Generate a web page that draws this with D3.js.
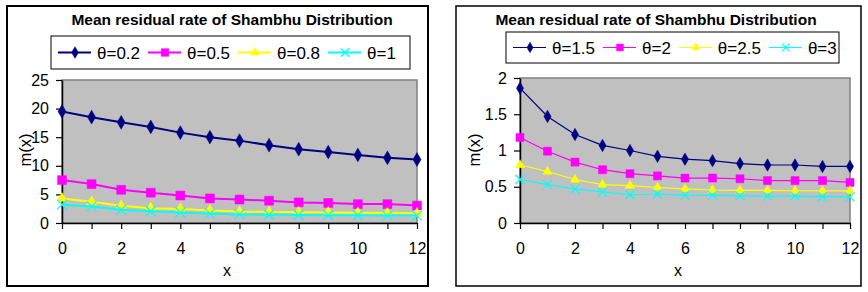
<!DOCTYPE html>
<html>
<head>
<meta charset="utf-8">
<script src="https://cdn.jsdelivr.net/npm/d3@7"></script>
<style>
  body { margin: 0; background: #fff; }
  svg { display: block; font-family: Arial, "Liberation Sans", sans-serif; }
</style>
</head>
<body>
<svg id="chart" width="868" height="292"></svg>
<script>
// x values shared by both panels
const xValues = [0, 1, 2, 3, 4, 5, 6, 7, 8, 9, 10, 11, 12];

// left panel (small theta)
const leftNames = ['θ=0.2', 'θ=0.5', 'θ=0.8', 'θ=1'];
const leftTheta02 = [19.5, 18.5, 17.6, 16.8, 15.8, 15.0, 14.4, 13.6, 12.9, 12.4, 11.9, 11.4, 11.1];
const leftTheta05 = [7.5, 6.8, 5.8, 5.3, 4.8, 4.3, 4.1, 3.9, 3.6, 3.5, 3.3, 3.3, 3.05];
const leftTheta08 = [4.3, 3.7, 3.0, 2.6, 2.45, 2.2, 2.0, 1.95, 1.9, 1.85, 1.8, 1.75, 1.7];
const leftTheta1 = [3.2, 2.9, 2.3, 2.05, 1.85, 1.65, 1.5, 1.45, 1.4, 1.35, 1.35, 1.3, 1.3];
const leftYTicks = [0, 5, 10, 15, 20, 25];

// right panel (large theta)
const rightNames = ['θ=1.5', 'θ=2', 'θ=2.5', 'θ=3'];
const rightTheta15 = [1.86, 1.47, 1.22, 1.07, 1.0, 0.92, 0.88, 0.86, 0.82, 0.8, 0.8, 0.78, 0.78];
const rightTheta2 = [1.18, 0.99, 0.84, 0.735, 0.68, 0.65, 0.62, 0.62, 0.61, 0.585, 0.585, 0.585, 0.56];
const rightTheta25 = [0.8, 0.71, 0.6, 0.53, 0.515, 0.49, 0.47, 0.455, 0.45, 0.45, 0.445, 0.445, 0.44];
const rightTheta3 = [0.6, 0.53, 0.47, 0.43, 0.39, 0.4, 0.385, 0.38, 0.375, 0.37, 0.37, 0.365, 0.36];
const rightYTicks = [0, 0.5, 1, 1.5, 2];

const colors = ['#000080', '#ff00ff', '#ffff00', '#00ffff'];
const markers = ['diamond', 'square', 'triangle', 'cross'];
const title = 'Mean residual rate of Shambhu Distribution';

const svg = d3.select('#chart');

const drawMarker = (g, type, color, size) => {
  const h = size / 2;
  if (type === 'cross') {
    g.append('path')
      .attr('d', `M${-h},${-h}L${h},${h}M${-h},${h}L${h},${-h}`)
      .attr('stroke', color)
      .attr('stroke-width', 1.2)
      .attr('fill', 'none');
    return;
  }
  const sym = type === 'diamond' ? d3.symbolDiamond
    : type === 'square' ? d3.symbolSquare : d3.symbolTriangle;
  const area = type === 'diamond' ? size * size * 0.55
    : type === 'square' ? size * size * 0.8 : size * size * 0.45;
  g.append('path')
    .attr('d', d3.symbol(sym, area)())
    .attr('fill', color)
    .attr('stroke', color)
    .attr('stroke-width', 0.5);
};

const Panel = (props) => {
  const { frame, plot, yMax, yTicks, yFormat, names, series, legend, lineWidth, markerSize, frameWidth } = props;

  const g = svg.append('g');

  g.append('rect')
    .attr('x', frame.x).attr('y', frame.y)
    .attr('width', frame.w).attr('height', frame.h)
    .attr('fill', '#fff')
    .attr('stroke', '#000')
    .attr('stroke-width', frameWidth);

  g.append('text')
    .attr('x', frame.titleX)
    .attr('y', 25)
    .attr('text-anchor', 'middle')
    .attr('font-weight', 'bold')
    .attr('font-size', 15.5)
    .text(title);

  const xScale = d3.scaleLinear().domain([0, 12]).range([plot.x0, plot.x1]);
  const yScale = d3.scaleLinear().domain([0, yMax]).range([plot.y1, plot.y0]);

  g.append('rect')
    .attr('x', plot.x0).attr('y', plot.y0)
    .attr('width', plot.x1 - plot.x0).attr('height', plot.y1 - plot.y0)
    .attr('fill', '#c0c0c0')
    .attr('stroke', '#808080')
    .attr('stroke-width', 1.5);

  const axisStyle = AxisG => {
    AxisG.selectAll('.domain').attr('stroke', '#000').attr('stroke-width', 1.5);
    AxisG.selectAll('line').attr('stroke', '#000').attr('stroke-width', 1.2);
    AxisG.selectAll('text')
      .attr('font-size', 16)
      .attr('font-family', 'Arial, "Liberation Sans", sans-serif')
      .attr('fill', '#000');
  };

  g.append('g')
    .attr('transform', `translate(0, ${plot.y1})`)
    .call(d3.axisBottom(xScale)
      .tickValues(xValues)
      .tickFormat(d => d % 2 === 0 ? d : '')
      .tickSize(6).tickSizeOuter(0).tickPadding(14))
    .call(axisStyle);

  g.append('g')
    .attr('transform', `translate(${plot.x0}, 0)`)
    .call(d3.axisLeft(yScale)
      .tickValues(yTicks)
      .tickFormat(yFormat)
      .tickSize(6).tickSizeOuter(0).tickPadding(7))
    .call(axisStyle);

  g.append('text')
    .attr('x', props.xLabelX).attr('y', 276)
    .attr('text-anchor', 'middle')
    .attr('font-size', 16)
    .text('x');

  g.append('text')
    .attr('transform', `translate(${props.yLabelX}, 150) rotate(-90)`)
    .attr('text-anchor', 'middle')
    .attr('dy', '0.35em')
    .attr('font-size', 16.5)
    .text('m(x)');

  const line = d3.line()
    .x((d, i) => xScale(xValues[i]))
    .y(d => yScale(d));

  series.forEach((values, k) => {
    g.append('path')
      .datum(values)
      .attr('d', line)
      .attr('fill', 'none')
      .attr('stroke', colors[k])
      .attr('stroke-width', lineWidth);
    values.forEach((v, i) => {
      const mg = g.append('g')
        .attr('transform', `translate(${xScale(xValues[i])}, ${yScale(v)})`);
      drawMarker(mg, markers[k], colors[k], markerSize);
    });
  });

  // legend
  g.append('rect')
    .attr('x', legend.x).attr('y', legend.y)
    .attr('width', legend.w).attr('height', legend.h)
    .attr('fill', '#fff')
    .attr('stroke', '#000')
    .attr('stroke-width', 1);

  const cy = legend.y + legend.h / 2;
  let cx = legend.x + 7;
  names.forEach((name, k) => {
    g.append('line')
      .attr('x1', cx).attr('x2', cx + 33)
      .attr('y1', cy).attr('y2', cy)
      .attr('stroke', colors[k])
      .attr('stroke-width', lineWidth);
    const mg = g.append('g').attr('transform', `translate(${cx + 17}, ${cy})`);
    drawMarker(mg, markers[k], colors[k], markerSize * 0.85);
    const t = g.append('text')
      .attr('x', cx + 39).attr('y', cy)
      .attr('dy', '0.36em')
      .attr('font-size', 17)
      .text(name);
    cx += 39 + t.node().getComputedTextLength() + 8;
  });
};

Panel({
  frame: { x: 7, y: 6, w: 421, h: 280, titleX: 232 },
  frameWidth: 2,
  plot: { x0: 62, x1: 417, y0: 80, y1: 223 },
  yMax: 25,
  yTicks: leftYTicks,
  yFormat: d => d,
  names: leftNames,
  series: [leftTheta02, leftTheta05, leftTheta08, leftTheta1],
  legend: { x: 51, y: 36, w: 359, h: 33 },
  lineWidth: 2,
  markerSize: 10,
  xLabelX: 227,
  yLabelX: 25
});

Panel({
  frame: { x: 456, y: 6, w: 405, h: 280, titleX: 656 },
  frameWidth: 1.5,
  plot: { x0: 520, x1: 850, y0: 78, y1: 223 },
  yMax: 2,
  yTicks: rightYTicks,
  yFormat: d => d,
  names: rightNames,
  series: [rightTheta15, rightTheta2, rightTheta25, rightTheta3],
  legend: { x: 506, y: 32, w: 333, h: 31 },
  lineWidth: 1.2,
  markerSize: 9,
  xLabelX: 678,
  yLabelX: 474
});
</script>
</body>
</html>
